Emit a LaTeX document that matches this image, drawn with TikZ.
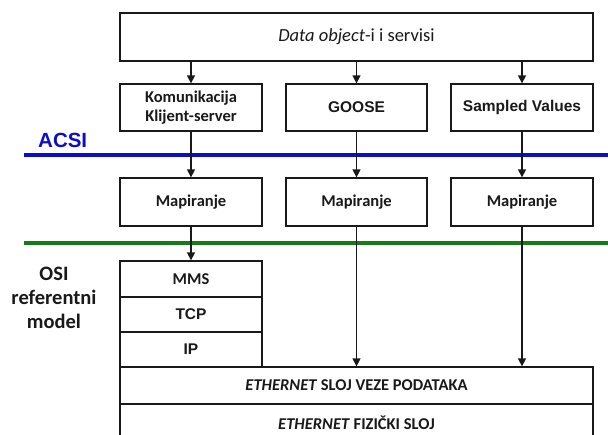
\documentclass[tikz,border=0pt]{standalone}
\usepackage{fontspec}
\setmainfont{Carlito}
\newfontfamily\arialf{Liberation Sans}
\usetikzlibrary{arrows.meta}
\definecolor{acsiblue}{RGB}{12,12,205}
\definecolor{osigreen}{RGB}{22,122,22}
\definecolor{ink}{RGB}{25,25,25}
\begin{document}
\begin{tikzpicture}[x=1pt,y=-1pt,
  box/.style={draw=ink, line width=1.3pt, rectangle, inner sep=0pt, fill=white,
              align=center, text=ink},
  sz/.style 2 args={minimum width=#1, minimum height=#2},
  cal/.style={font=\fontsize{16.5}{19.5}\selectfont\bfseries},
  calreg/.style={font=\fontsize{18.5}{22}\selectfont},
  ari/.style={font=\arialf\fontsize{15.5}{18}\selectfont\bfseries},
  arr/.style={draw=ink, line width=1.3pt, -{Triangle[length=8pt,width=8pt]}},
  layer/.style={line width=3.6pt}
]
\clip (0,0) rectangle (608,434);
\fill[white] (0,0) rectangle (608,434);

% layer boundaries
\coordinate (acsiL) at (24,155);
\coordinate (acsiR) at (608,155);
\coordinate (osiL) at (24,243);
\coordinate (osiR) at (608,243);
\draw[layer, acsiblue] (acsiL) -- (acsiR);
\draw[layer, osigreen] (osiL) -- (osiR);

% side labels
\node[anchor=base west, inner sep=0pt, text=acsiblue,
      font=\arialf\fontsize{20.5}{24}\selectfont\bfseries] (acsi) at (38,147) {ACSI};
\node[align=center, inner sep=0pt, text=ink,
      font=\fontsize{20.5}{24}\selectfont\bfseries] (osi) at (54,298)
      {OSI\\referentni\\model};

% boxes
\node[box, sz={473pt}{48pt}, calreg] (data) at (356.5,37)
      {\textit{Data object}-i i servisi};
\node[box, sz={142pt}{47pt}, cal] (kom) at (191,107.5)
      {Komunikacija\\Klijent-server};
\node[box, sz={141pt}{47pt}, ari] (goose) at (356.5,107.5) {GOOSE};
\node[box, sz={142pt}{47pt}, ari] (sv) at (522,107.5) {Sampled Values};

\node[box, sz={142pt}{48pt}, cal] (m1) at (191,202) {Mapiranje};
\node[box, sz={141pt}{48pt}, cal] (m2) at (356.5,202) {Mapiranje};
\node[box, sz={142pt}{48pt}, cal] (m3) at (522,202) {Mapiranje};

\node[box, sz={142pt}{36pt}, cal] (mms) at (191,279) {MMS};
\node[box, sz={142pt}{35pt}, ari] (tcp) at (191,314.5) {TCP};
\node[box, sz={142pt}{35pt}, ari] (ip) at (191,349.5) {IP};

\node[box, sz={473pt}{37pt}, cal] (eth) at (356.5,385.5)
      {\textit{ETHERNET} SLOJ VEZE PODATAKA};
\node[box, sz={473pt}{37pt}, cal] (phy) at (356.5,422.5)
      {\textit{ETHERNET} FIZIČKI SLOJ};

% connectors
\draw[arr] (data.south -| kom.north) -- (kom.north);
\draw[arr] (data.south -| goose.north) -- (goose.north);
\draw[arr] (data.south -| sv.north) -- (sv.north);
\draw[arr] (kom.south) -- (m1.north);
\draw[arr] (goose.south) -- (m2.north);
\draw[arr] (sv.south) -- (m3.north);
\draw[arr] (m1.south) -- (mms.north);
\draw[arr] (m2.south) -- (m2.south |- eth.north);
\draw[arr] (m3.south) -- (m3.south |- eth.north);
\end{tikzpicture}
\end{document}
